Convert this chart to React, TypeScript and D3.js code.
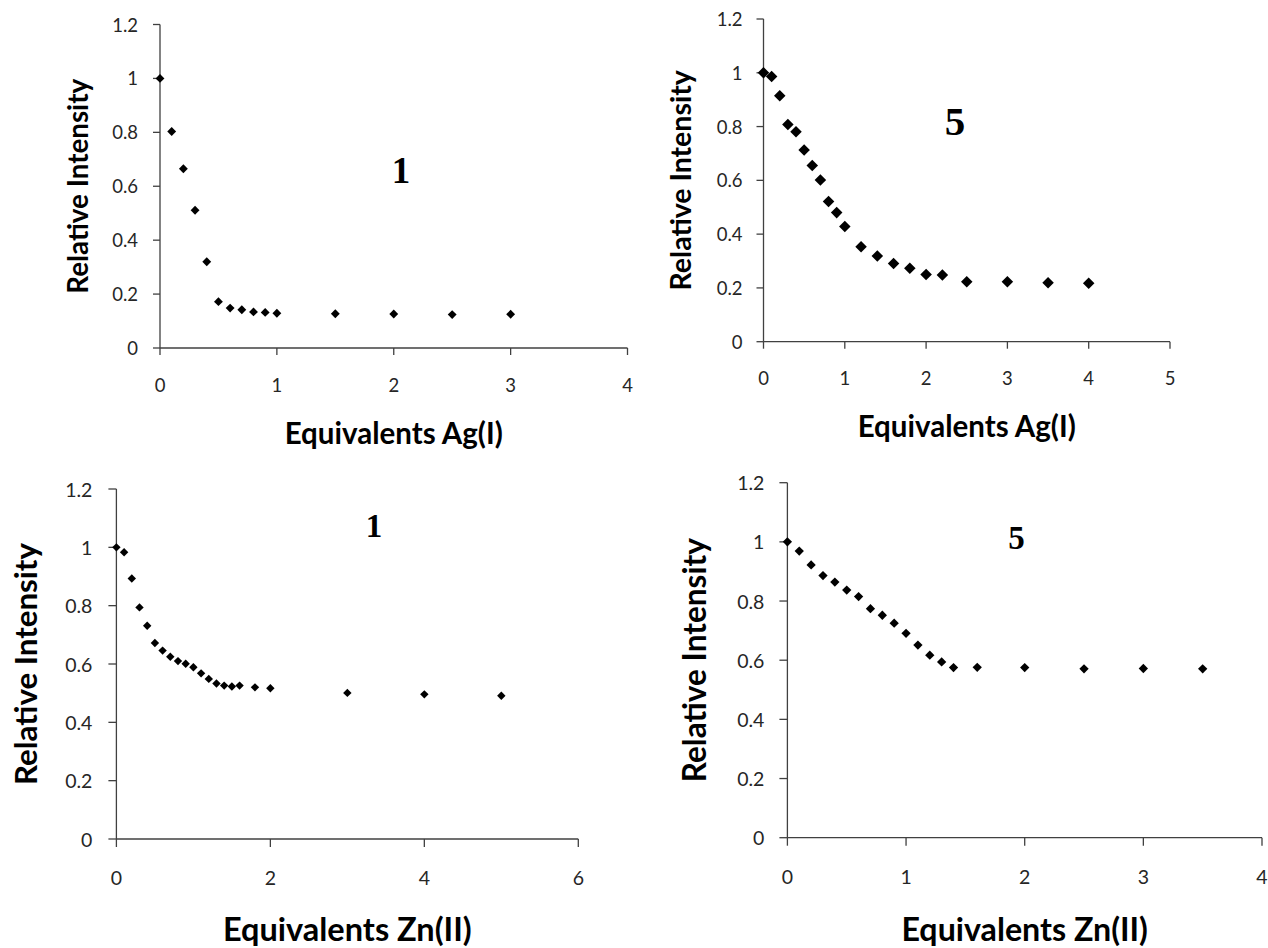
import React from "react";
import * as d3 from "d3";

// ---- data ----
const agX1 = [0, 0.1, 0.2, 0.3, 0.4, 0.5, 0.6, 0.7, 0.8, 0.9, 1.0, 1.5, 2, 2.5, 3];
const agY1 = [1.0, 0.803, 0.665, 0.511, 0.32, 0.172, 0.148, 0.142, 0.134, 0.132, 0.129, 0.127, 0.126, 0.124, 0.125];

const agX5 = [0, 0.1, 0.2, 0.3, 0.4, 0.5, 0.6, 0.7, 0.8, 0.9, 1.0, 1.2, 1.4, 1.6, 1.8, 2.0, 2.2, 2.5, 3.0, 3.5, 4.0];
const agY5 = [1.0, 0.986, 0.915, 0.808, 0.781, 0.713, 0.655, 0.601, 0.521, 0.48, 0.428, 0.353, 0.319, 0.291, 0.273, 0.25, 0.248, 0.223, 0.223, 0.219, 0.217];

const znX1 = [0, 0.1, 0.2, 0.3, 0.4, 0.5, 0.6, 0.7, 0.8, 0.9, 1.0, 1.1, 1.2, 1.3, 1.4, 1.5, 1.6, 1.8, 2.0, 3.0, 4.0, 5.0];
const znY1 = [1.0, 0.983, 0.893, 0.794, 0.731, 0.672, 0.646, 0.625, 0.61, 0.601, 0.589, 0.568, 0.549, 0.533, 0.526, 0.523, 0.526, 0.52, 0.517, 0.501, 0.496, 0.491];

const znX5 = [0, 0.1, 0.2, 0.3, 0.4, 0.5, 0.6, 0.7, 0.8, 0.9, 1.0, 1.1, 1.2, 1.3, 1.4, 1.6, 2.0, 2.5, 3.0, 3.5];
const znY5 = [1.0, 0.969, 0.922, 0.886, 0.864, 0.837, 0.815, 0.774, 0.752, 0.725, 0.691, 0.651, 0.617, 0.594, 0.575, 0.576, 0.575, 0.571, 0.572, 0.571];

const yTicks = [0, 0.2, 0.4, 0.6, 0.8, 1, 1.2];
const xTicksAg1 = [0, 1, 2, 3, 4];
const xTicksAg5 = [0, 1, 2, 3, 4, 5];
const xTicksZn1 = [0, 2, 4, 6];
const xTicksZn5 = [0, 1, 2, 3, 4];

const yTitle = "Relative Intensity";
const xTitleAg = "Equivalents Ag(I)";
const xTitleZn = "Equivalents Zn(II)";

type PanelCfg = {
  xs: number[]; ys: number[]; xTicks: number[]; xMax: number;
  x0: number; x1: number; y0: number; y1: number;
  marker: number; label: string; labelX: number; labelY: number; labelSize: number;
  xTitle: string; xTitleY: number; xTitleSize: number;
  yTitleX: number; yTitleSize: number;
  tickOff: number; yLabGap: number; tickSize: number; tickLen: number;
};

const panels: PanelCfg[] = [
  { xs: agX1, ys: agY1, xTicks: xTicksAg1, xMax: 4, x0: 160, x1: 627.5, y0: 348, y1: 24.5,
    marker: 10, label: "1", labelX: 401, labelY: 183, labelSize: 37,
    xTitle: xTitleAg, xTitleY: 444, xTitleSize: 29.5,
    yTitleX: 88, yTitleSize: 27.8,
    tickOff: 37, yLabGap: 22, tickSize: 18.5, tickLen: 7 },
  { xs: agX5, ys: agY5, xTicks: xTicksAg5, xMax: 5, x0: 763.5, x1: 1170, y0: 341.7, y1: 19,
    marker: 13, label: "5", labelX: 955, labelY: 134.5, labelSize: 41,
    xTitle: xTitleAg, xTitleY: 437, xTitleSize: 29.5,
    yTitleX: 691, yTitleSize: 28.5,
    tickOff: 36.5, yLabGap: 21, tickSize: 18.5, tickLen: 7 },
  { xs: znX1, ys: znY1, xTicks: xTicksZn1, xMax: 6, x0: 116.4, x1: 578.3, y0: 839, y1: 489,
    marker: 9.5, label: "1", labelX: 374, labelY: 537, labelSize: 33,
    xTitle: xTitleZn, xTitleY: 941, xTitleSize: 32.5,
    yTitleX: 37, yTitleSize: 31.3,
    tickOff: 38.5, yLabGap: 24, tickSize: 19.5, tickLen: 8 },
  { xs: znX5, ys: znY5, xTicks: xTicksZn5, xMax: 4, x0: 787.4, x1: 1262, y0: 837.7, y1: 482.7,
    marker: 10.5, label: "5", labelX: 1016.6, labelY: 549, labelSize: 33,
    xTitle: xTitleZn, xTitleY: 941, xTitleSize: 32.2,
    yTitleX: 706, yTitleSize: 31.6,
    tickOff: 39, yLabGap: 23, tickSize: 19.5, tickLen: 8 },
];

const sansFont = "Lato, 'Open Sans', sans-serif";
const axisColor = "#404040";

function Panel({ p }: { p: PanelCfg }) {
  const x = d3.scaleLinear().domain([0, p.xMax]).range([p.x0, p.x1]);
  const y = d3.scaleLinear().domain([0, 1.2]).range([p.y0, p.y1]);
  const sym = d3.symbol().type(d3.symbolDiamond2).size((p.marker * p.marker) / 2)();
  const cx = (p.x0 + p.x1) / 2;
  const cy = (p.y0 + p.y1) / 2;
  return (
    <g>
      <line x1={p.x0} x2={p.x0} y1={y(1.2)} y2={y(0)} stroke={axisColor} strokeWidth={1.3} />
      <line x1={x(0)} x2={x(p.xMax)} y1={p.y0} y2={p.y0} stroke={axisColor} strokeWidth={1.3} />
      {yTicks.map((t) => (
        <g key={"y" + t}>
          <line x1={p.x0 - p.tickLen} x2={p.x0} y1={y(t)} y2={y(t)} stroke={axisColor} strokeWidth={1.3} />
          <text x={p.x0 - p.yLabGap} y={y(t)} textAnchor="end" dominantBaseline="central"
            fontFamily={sansFont} fontSize={p.tickSize} fill="#262626">{d3.format("~g")(t)}</text>
        </g>
      ))}
      {p.xTicks.map((t) => (
        <g key={"x" + t}>
          <line x1={x(t)} x2={x(t)} y1={p.y0} y2={p.y0 + p.tickLen} stroke={axisColor} strokeWidth={1.3} />
          <text x={x(t)} y={p.y0 + p.tickOff} textAnchor="middle" dominantBaseline="central"
            fontFamily={sansFont} fontSize={p.tickSize} fill="#262626">{t}</text>
        </g>
      ))}
      {p.xs.map((xv, i) => (
        <path key={i} d={sym as string} transform={`translate(${x(xv)},${y(p.ys[i])})`} fill="#000" />
      ))}
      <text x={cx} y={p.xTitleY} textAnchor="middle"
        fontFamily={sansFont} fontWeight="bold" fontSize={p.xTitleSize} fill="#000">{p.xTitle}</text>
      <text transform={`translate(${p.yTitleX},${cy}) rotate(-90)`} textAnchor="middle"
        fontFamily={sansFont} fontWeight="bold" fontSize={p.yTitleSize} fill="#000">{yTitle}</text>
      <text x={p.labelX} y={p.labelY} textAnchor="middle"
        fontFamily="'Liberation Serif', 'Times New Roman', serif" fontWeight="bold" fontSize={p.labelSize} fill="#000">{p.label}</text>
    </g>
  );
}

export default function App() {
  return (
    <svg width={1268} height={948} style={{ position: "absolute", left: 0, top: 0, background: "#fff" }}>
      <rect width={1268} height={948} fill="#fff" />
      {panels.map((p, i) => (
        <Panel key={i} p={p} />
      ))}
    </svg>
  );
}
